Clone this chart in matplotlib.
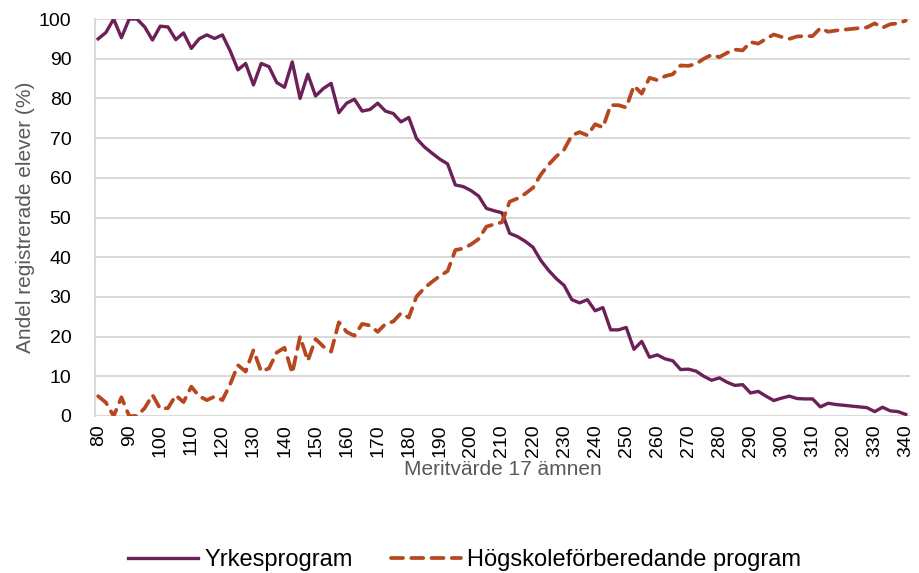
import numpy as np
import matplotlib.pyplot as plt

plt.rcParams['font.family'] = ['Liberation Sans', 'DejaVu Sans']

# Meritvärde, steg om 2,5 poäng
merit = np.arange(80, 340.01, 2.5)

yrke = [95.0, 96.6, 100, 95.3, 100, 100, 98.0, 94.7, 98.2, 98.0,
        94.8, 96.5, 92.6, 95.0, 96.0, 95.1, 96.0, 92.0, 87.2, 88.8,
        83.4, 88.8, 88.0, 84.0, 82.8, 89.2, 80.0, 86.1, 80.6, 82.5,
        83.8, 76.4, 78.8, 79.8, 76.8, 77.2, 78.8, 76.8, 76.2, 74.1,
        75.2, 69.9, 67.8, 66.2, 64.7, 63.5, 58.2, 57.8, 56.8, 55.4,
        52.3, 51.7, 51.2, 46.0, 45.2, 44.0, 42.5, 39.2, 36.7, 34.6,
        32.9, 29.3, 28.5, 29.3, 26.5, 27.3, 21.7, 21.7, 22.3, 16.8,
        18.8, 14.8, 15.4, 14.4, 13.9, 11.7, 11.8, 11.3, 10.0, 9.0,
        9.6, 8.5, 7.7, 7.9, 5.8, 6.2, 5.0, 3.9, 4.5, 5.0,
        4.4, 4.3, 4.3, 2.3, 3.2, 2.9, 2.7, 2.5, 2.3, 2.1,
        1.1, 2.2, 1.3, 1.1, 0.4]

hogskole = [5.0, 3.4, 0, 4.7, 0, 0, 2.0, 5.3, 1.8, 2.0,
            5.2, 3.5, 7.4, 5.0, 4.0, 4.9, 4.0, 8.0, 12.8, 11.2,
            16.6, 11.2, 12.0, 16.0, 17.2, 10.8, 20.0, 13.9, 19.4, 17.5,
            16.2, 23.6, 21.2, 20.2, 23.2, 22.8, 21.2, 23.2, 23.8, 25.9,
            24.8, 30.1, 32.2, 33.8, 35.3, 36.5, 41.8, 42.2, 43.2, 44.6,
            47.7, 48.3, 48.8, 54.0, 54.8, 56.0, 57.5, 60.8, 63.3, 65.4,
            67.1, 70.7, 71.5, 70.7, 73.5, 72.7, 78.3, 78.3, 77.7, 83.2,
            81.2, 85.2, 84.6, 85.6, 86.1, 88.3, 88.2, 88.7, 90.0, 91.0,
            90.4, 91.5, 92.3, 92.1, 94.2, 93.8, 95.0, 96.1, 95.5, 95.0,
            95.6, 95.7, 95.7, 97.7, 96.8, 97.1, 97.3, 97.5, 97.7, 97.9,
            98.9, 97.8, 98.7, 98.9, 99.6]

xticks = np.arange(80, 341, 10)

fig = plt.figure(figsize=(9.19, 5.73), dpi=100)
ax = fig.add_axes([0.1034, 0.274, 0.8866, 0.6928])

ax.plot(merit, yrke, color='#6B2157', linewidth=2.4, label='Yrkesprogram',
        solid_joinstyle='round')
ax.plot(merit, hogskole, color='#B5481E', linewidth=2.7, linestyle=(0, (3.2, 2.2)),
        dash_capstyle='round', label='Högskoleförberedande program')

ax.set_xlim(79, 341.3)
ax.set_ylim(0, 100)
ax.set_yticks(range(0, 101, 10))
ax.set_xticks(xticks)
ax.set_xticklabels([str(v) for v in xticks], rotation=90)
ax.tick_params(axis='both', length=0, labelsize=14, colors='black')
ax.tick_params(axis='y', pad=17)
ax.tick_params(axis='x', pad=6)
ax.grid(axis='y', color='#d9d9d9', linewidth=1.4)
ax.set_axisbelow(True)
for s in ['top', 'right', 'bottom']:
    ax.spines[s].set_visible(False)
ax.spines['left'].set_color('#d9d9d9')
ax.spines['left'].set_linewidth(1.4)

ax.set_ylabel('Andel registrerade elever (%)', fontsize=15, color='#595959', labelpad=3)
ax.set_xlabel('Meritvärde 17 ämnen', fontsize=15, color='#595959', labelpad=2)

fig.legend(loc='lower center', bbox_to_anchor=(0.5054, -0.034), ncol=2, frameon=False,
           fontsize=17, handlelength=3.0, columnspacing=1.6, handletextpad=0.25)

fig.savefig('out.png', dpi=100)
